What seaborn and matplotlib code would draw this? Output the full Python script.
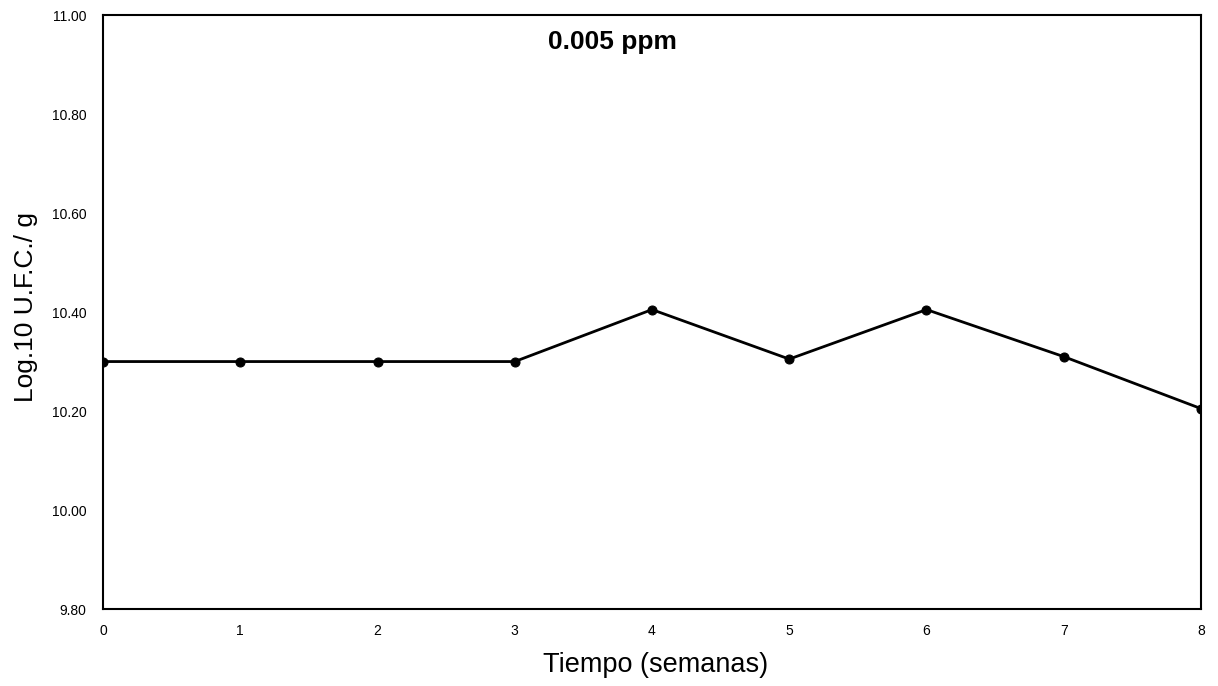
import matplotlib
matplotlib.use("Agg")
import matplotlib.pyplot as plt
import seaborn as sns
import pandas as pd

weeks = [0, 1, 2, 3, 4, 5, 6, 7, 8]
log_ufc = [10.30, 10.30, 10.30, 10.30, 10.405, 10.305, 10.405, 10.31, 10.205]
y_ticks = [9.80, 10.00, 10.20, 10.40, 10.60, 10.80, 11.00]
y_tick_labels = ["9.80", "10.00", "10.20", "10.40", "10.60", "10.80", "11.00"]

sns.set_theme(style="white")
plt.rcParams['font.family'] = ['Liberation Sans', 'DejaVu Sans']
plt.rcParams['text.color'] = 'black'
plt.rcParams['axes.labelcolor'] = 'black'
plt.rcParams['xtick.color'] = 'black'
plt.rcParams['ytick.color'] = 'black'

df = pd.DataFrame({"week": weeks, "val": log_ufc})

fig = plt.figure(figsize=(12.18, 6.86), dpi=100)
ax = fig.add_axes([0.0846, 0.1122, 0.9014, 0.8658])
sns.lineplot(data=df, x="week", y="val", ax=ax, color="black", linewidth=2,
             marker="o", markersize=6.5, markeredgecolor="black", markerfacecolor="black")

ax.set_xlim(0, 8)
ax.set_ylim(9.80, 11.00)
ax.set_xticks(weeks)
ax.set_xticklabels([str(w) for w in weeks], fontsize=10)
ax.set_yticks(y_ticks)
ax.set_yticklabels(y_tick_labels, fontsize=10)
ax.tick_params(axis="both", length=0)
ax.tick_params(axis="y", pad=12)
ax.tick_params(axis="x", pad=11)
for s in ax.spines.values():
    s.set_color("black")
    s.set_linewidth(1.5)

ax.set_xlabel("Tiempo (semanas)", fontsize=19.5)
ax.set_ylabel("Log.10 U.F.C./ g", fontsize=19)
ax.xaxis.set_label_coords(0.503, -0.072)
ax.yaxis.set_label_coords(-0.0592, 0.508)
ax.text(0.4636, 0.954, "0.005 ppm", transform=ax.transAxes, ha="center", va="center",
        fontsize=19, fontweight="bold")

fig.savefig("out.png", dpi=100)
